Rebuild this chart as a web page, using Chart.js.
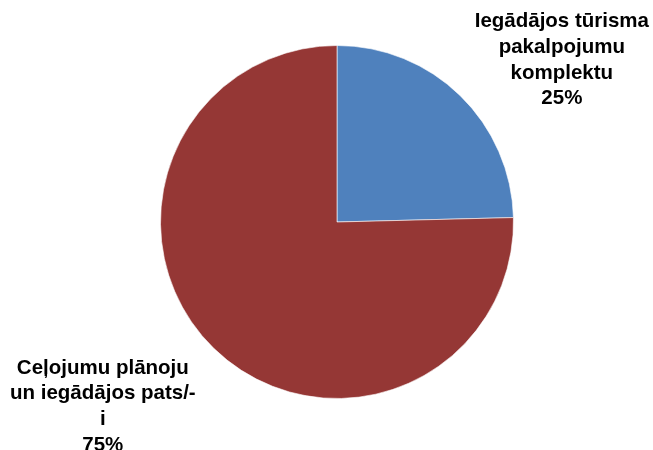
<!DOCTYPE html>
<html>
<head>
<meta charset="utf-8">
<script src="https://cdn.jsdelivr.net/npm/chart.js@4"></script>
<style>
  html, body { margin: 0; padding: 0; background: #fff; }
  #wrap { width: 653px; height: 450px; }
</style>
</head>
<body>
<div id="wrap"><canvas id="chart" width="653" height="450"></canvas></div>
<script>
// category names, already broken into the lines shown on the chart
const categories = [
    ['Iegādājos tūrisma', 'pakalpojumu', 'komplektu'],
    ['Ceļojumu plānoju', 'un iegādājos pats/-', 'i']
];
const shares = [24.6, 75.4];
const sliceColors = ['#4F81BD', '#953735'];

const FONT = 'bold 20.5px "Liberation Sans", Arial, sans-serif';
const LINE_H = 25.8;

// outside-end labels, pushed out from the slice and kept inside the canvas
const outsideLabels = {
    id: 'outsideLabels',
    afterDatasetsDraw(chart) {
        const ctx = chart.ctx;
        const meta = chart.getDatasetMeta(0);
        const total = shares.reduce((a, b) => a + b, 0);
        ctx.save();
        ctx.font = FONT;
        ctx.fillStyle = '#000';
        ctx.textAlign = 'center';
        ctx.textBaseline = 'alphabetic';
        meta.data.forEach((arc, i) => {
            const { x, y, startAngle, endAngle, outerRadius } = arc.getProps(['x', 'y', 'startAngle', 'endAngle', 'outerRadius'], true);
            const mid = (startAngle + endAngle) / 2;
            const lines = [...categories[i], Math.round(shares[i] / total * 100) + '%'];
            const w = Math.max(...lines.map(l => ctx.measureText(l).width));
            const capH = 15;
            const h = (lines.length - 1) * LINE_H + capH;
            let cx = x + Math.cos(mid) * (outerRadius + 160);
            let cy = y + Math.sin(mid) * (outerRadius + 160);
            cx = Math.min(Math.max(cx, 10 + w / 2), chart.width - 4 - w / 2);
            cy = Math.min(Math.max(cy, 12 + h / 2), chart.height + 1 - h / 2);
            const top = cy - h / 2;
            lines.forEach((l, j) => ctx.fillText(l, cx, top + capH + j * LINE_H));
        });
        ctx.restore();
    }
};

new Chart(document.getElementById('chart'), {
    type: 'pie',
    data: {
        labels: categories.map(c => c.join(' ')),
        datasets: [{
            data: shares,
            backgroundColor: sliceColors,
            borderColor: 'rgba(255,255,255,0.6)',
            borderWidth: 1
        }]
    },
    options: {
        responsive: false,
        animation: false,
        layout: { padding: { left: 160, right: 139, top: 45, bottom: 51 } },
        plugins: {
            legend: { display: false },
            tooltip: { enabled: false }
        }
    },
    plugins: [outsideLabels]
});
</script>
</body>
</html>
